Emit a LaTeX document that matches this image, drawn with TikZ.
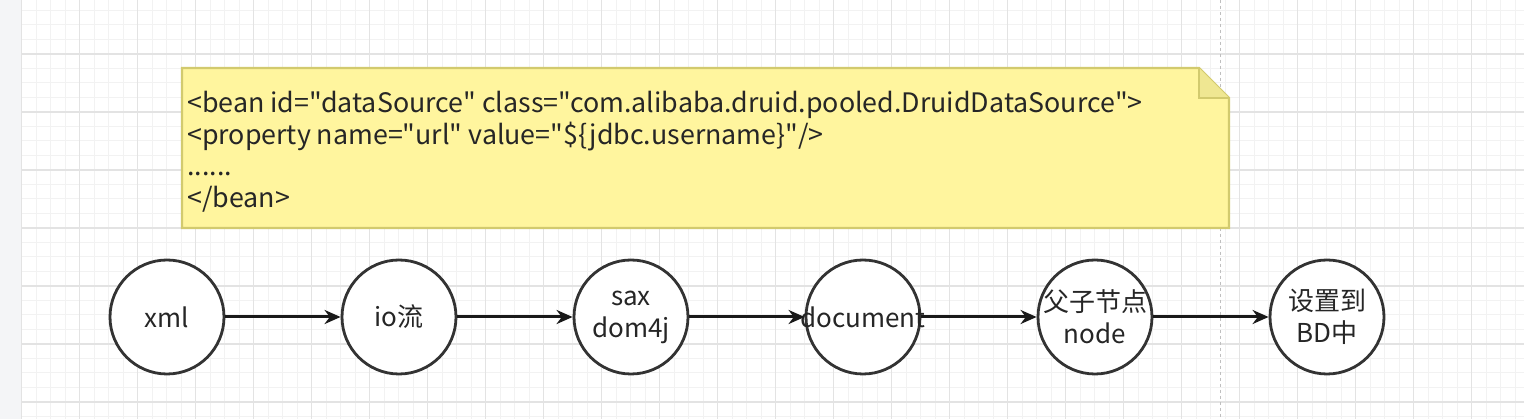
\documentclass[tikz,border=0pt]{standalone}
\usepackage{fontspec}
\setmainfont{Noto Sans CJK SC}[Ligatures=TeXOff]
\usetikzlibrary{arrows.meta}
\definecolor{gridminor}{HTML}{F2F2F2}
\definecolor{gridmajor}{HTML}{E3E3E3}
\definecolor{panel}{HTML}{F4F5F7}
\definecolor{notefill}{HTML}{FFF59E}
\definecolor{notedraw}{HTML}{D2CA6E}
\definecolor{notefold}{HTML}{EFE792}
\tikzset{
    stage/.style = {circle, minimum size=114pt, inner sep=-10pt, draw=black!80, line width=2.8pt, fill=white, align=center, text=black!85, font=\fontsize{26}{32}\selectfont},
    note/.style = {draw=notedraw, fill=notefill, line width=2.2pt},
    code/.style = {anchor=north west, inner sep=0pt, align=left, text=black!85, font=\fontsize{26.8}{31.5}\selectfont},
    arrow/.style = {line width=3pt, draw=black!90, -{Stealth[length=16pt,width=14pt]}}
}
\begin{document}
\begin{tikzpicture}[x=1pt, y=-1pt, node distance=232pt]
\useasboundingbox (0,0) rectangle (1524,419);
% canvas
\fill[white] (0,0) rectangle (1524,419);
\fill[panel] (0,0) rectangle (21.7,419);
\foreach \x in {0,...,104} \draw[gridminor, line width=1pt] (21.7+\x*14.5,0) -- ++(0,419);
\foreach \y in {0,...,29} \draw[gridminor, line width=1pt] (21.7,-4+\y*14.5) -- (1524,-4+\y*14.5);
\foreach \x in {0,...,26} \draw[gridmajor, line width=1.2pt] (21.7+\x*58,0) -- ++(0,419);
\foreach \y in {1,...,7} \draw[gridmajor, line width=1.2pt] (21.7,-4+\y*58) -- (1524,-4+\y*58);
\draw[black!25, dashed, line width=0.8pt] (1220,0) -- (1220,419);

% note
\draw[note] (182,68) -- (1199,68) -- (1229,98) -- (1229,228) -- (182,228) -- cycle;
\draw[note, fill=notefold] (1199,68) -- (1199,98) -- (1229,98);
\node (code) [code] at (187,91) {<bean id="dataSource" class="com.alibaba.druid.pooled.DruidDataSource">\\
<property name="url" value="\$\{jdbc.username\}"/>\\
......\\
</bean>};

% flow
\node (xml) [stage] at (167,317) {xml};
\node (io) [stage, right of=xml] {io流};
\node (sax) [stage, right of=io] {sax\\dom4j};
\node (doc) [stage, right of=sax] {document};
\node (tree) [stage, right of=doc] {父子节点\\node};
\node (bd) [stage, right of=tree] {设置到\\BD中};

\draw [arrow] (xml) -- (io);
\draw [arrow] (io) -- (sax);
\draw [arrow] (sax) -- (doc);
\draw [arrow] (doc) -- (tree);
\draw [arrow] (tree) -- (bd);
\end{tikzpicture}
\end{document}
